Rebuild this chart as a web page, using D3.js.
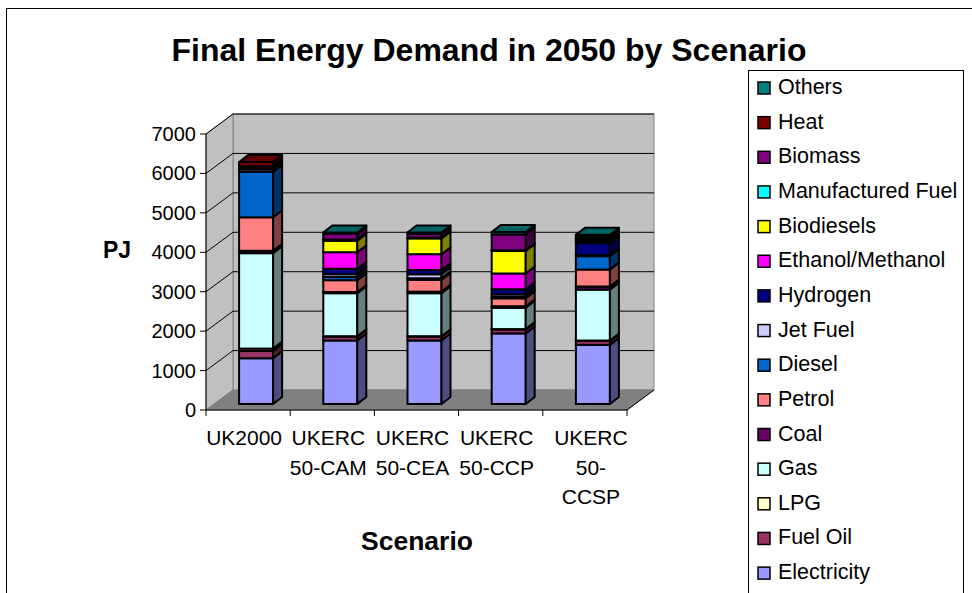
<!DOCTYPE html>
<html>
<head>
<meta charset="utf-8">
<script src="https://cdn.jsdelivr.net/npm/d3@7"></script>
<style>
  body { margin: 0; background: #fff; }
  text { font-family: Arial, "Liberation Sans", sans-serif; fill: #000; }
</style>
</head>
<body>
<svg id="chart" width="972" height="593"></svg>
<script>
// scenarios (x categories)
var scenarios = ["UK2000", "UKERC 50-CAM", "UKERC 50-CEA", "UKERC 50-CCP", "UKERC 50-CCSP"];

// PJ per fuel, one value per scenario
var electricity  = [1160, 1610, 1610, 1790, 1500];
var fuelOil      = [185, 100, 100, 100, 100];
var lpg          = [60, 10, 10, 10, 10];
var gas          = [2420, 1090, 1090, 540, 1290];
var coal         = [60, 30, 40, 40, 80];
var petrol       = [850, 300, 300, 200, 430];
var diesel       = [1150, 80, 40, 40, 340];
var jetFuel      = [60, 70, 100, 60, 30];
var hydrogen     = [0, 140, 110, 130, 300];
var ethanol      = [0, 420, 400, 400, 50];
var biodiesels   = [0, 290, 400, 570, 50];
var manufactured = [50, 30, 20, 20, 30];
var biomass      = [40, 150, 90, 400, 40];
var heat         = [100, 0, 0, 0, 0];
var others       = [0, 30, 40, 60, 40];

var yTicks = [0, 1000, 2000, 3000, 4000, 5000, 6000, 7000];

// stacking order, bottom first
var series = [
    {name: "Electricity", color: "#9999ff", values: electricity},
    {name: "Fuel Oil", color: "#993366", values: fuelOil},
    {name: "LPG", color: "#ffffcc", values: lpg},
    {name: "Gas", color: "#ccffff", values: gas},
    {name: "Coal", color: "#660066", values: coal},
    {name: "Petrol", color: "#ff8080", values: petrol},
    {name: "Diesel", color: "#0066cc", values: diesel},
    {name: "Jet Fuel", color: "#ccccff", values: jetFuel},
    {name: "Hydrogen", color: "#000080", values: hydrogen},
    {name: "Ethanol/Methanol", color: "#ff00ff", values: ethanol},
    {name: "Biodiesels", color: "#ffff00", values: biodiesels},
    {name: "Manufactured Fuel", color: "#00ffff", values: manufactured},
    {name: "Biomass", color: "#800080", values: biomass},
    {name: "Heat", color: "#800000", values: heat},
    {name: "Others", color: "#008080", values: others}
];

var svg = d3.select("#chart");

// chart area border
svg.append("rect")
    .attr("x", 6.5).attr("y", 8.5)
    .attr("width", 970).attr("height", 600)
    .attr("fill", "#fff").attr("stroke", "#000");

// plot box (front plane) and depth of the walls
var pLeft = 206, pRight = 627, pBottom = 410, pTop = 134;
var wallDx = 27, wallDy = -20;

var x = d3.scaleBand().domain(scenarios).range([pLeft, pRight]);
var y = d3.scaleLinear().domain([0, 7000]).range([pBottom, pTop]);

var g = svg.append("g");

// back wall
g.append("rect")
    .attr("x", pLeft + wallDx).attr("y", pTop + wallDy)
    .attr("width", pRight - pLeft).attr("height", pBottom - pTop)
    .attr("fill", "#c0c0c0").attr("stroke", "#808080");
// side wall
g.append("path")
    .attr("d", d3.line()([[pLeft, pTop], [pLeft + wallDx, pTop + wallDy],
			  [pLeft + wallDx, pBottom + wallDy], [pLeft, pBottom]]) + "Z")
    .attr("fill", "#c0c0c0").attr("stroke", "#808080");
// floor
g.append("path")
    .attr("d", d3.line()([[pLeft, pBottom], [pLeft + wallDx, pBottom + wallDy],
			  [pRight + wallDx, pBottom + wallDy], [pRight, pBottom]]) + "Z")
    .attr("fill", "#808080").attr("stroke", "#808080");

// gridlines on both walls
g.selectAll(".grid")
    .data(yTicks.slice(1))
    .enter().append("path")
    .attr("class", "grid")
    .attr("d", d => d3.line()([[pLeft, y(d)], [pLeft + wallDx, y(d) + wallDy],
			       [pRight + wallDx, y(d) + wallDy]]))
    .attr("fill", "none").attr("stroke", "#000").attr("stroke-width", 1);

// y axis
g.append("line")
    .attr("x1", pLeft).attr("x2", pLeft)
    .attr("y1", pTop).attr("y2", pBottom)
    .attr("stroke", "#000");
g.selectAll(".ytick")
    .data(yTicks)
    .enter().append("line")
    .attr("x1", pLeft - 6).attr("x2", pLeft)
    .attr("y1", d => y(d)).attr("y2", d => y(d))
    .attr("stroke", "#000");
g.selectAll(".ylab")
    .data(yTicks)
    .enter().append("text")
    .attr("x", pLeft - 10)
    .attr("y", d => y(d))
    .attr("text-anchor", "end")
    .attr("dominant-baseline", "central")
    .style("font-size", "20px")
    .text(d => d);

// x axis with tick marks between categories
g.append("line")
    .attr("x1", pLeft).attr("x2", pRight)
    .attr("y1", pBottom).attr("y2", pBottom)
    .attr("stroke", "#000");
g.append("line")
    .attr("x1", pRight).attr("x2", pRight + wallDx)
    .attr("y1", pBottom).attr("y2", pBottom + wallDy)
    .attr("stroke", "#000");
g.selectAll(".xtick")
    .data(scenarios.concat([null]))
    .enter().append("line")
    .attr("x1", d => d ? x(d) : pRight).attr("x2", d => d ? x(d) : pRight)
    .attr("y1", pBottom).attr("y2", pBottom + 6)
    .attr("stroke", "#000");

function wrapLabel(s) {
    var lines = [];
    s.split(" ").forEach(function(w) {
	var i = w.indexOf("-");
	if (w.length > 6 && i >= 0) {
	    lines.push(w.slice(0, i + 1));
	    lines.push(w.slice(i + 1));
	} else {
	    lines.push(w);
	}
    });
    return lines;
}

var xlab = g.selectAll(".xlab")
    .data(scenarios)
    .enter().append("text")
    .attr("class", "xlab")
    .attr("text-anchor", "middle")
    .style("font-size", "21px");
xlab.selectAll("tspan")
    .data(d => wrapLabel(d).map(t => ({cat: d, t: t})))
    .enter().append("tspan")
    // a three-line label sits a little to the right in the original
    .attr("x", d => x(d.cat) + x.bandwidth() / 2 - 4 + (wrapLabel(d.cat).length > 2 ? 10 : 0))
    .attr("y", (d, i) => 445 + i * 29.5)
    .text(d => d.t);

// bars: sit half way into the depth
var barDx = 8, barDy = -6;
var faceDx = 9, faceDy = -7;
var bx = d3.scaleBand().domain(scenarios)
    .range([pLeft + barDx, pRight + barDx])
    .paddingInner(0.596).paddingOuter(0.298);
var by = d3.scaleLinear().domain([0, 7000])
    .range([pBottom + barDy, pTop + barDy]);

var stack = d3.stack()
    .keys(d3.range(series.length))
    .value((d, k) => series[k].values[d]);
var layers = stack(d3.range(scenarios.length));

function shade(c, k) {
    var r = d3.rgb(c);
    return d3.rgb(r.r * k, r.g * k, r.b * k).toString();
}

var bw = bx.bandwidth();
scenarios.forEach(function(cat, ci) {
    var bar = g.append("g").attr("class", "bar");
    var x0 = bx(cat);
    var last = null;
    layers.forEach(function(layer, si) {
	var seg = layer[ci];
	if (seg[1] - seg[0] <= 0) return;
	last = {si: si, seg: seg};
	var y0 = by(seg[0]), y1 = by(seg[1]);
	bar.append("rect")
	    .attr("x", x0).attr("y", y1)
	    .attr("width", bw).attr("height", y0 - y1)
	    .attr("fill", series[si].color)
	    .attr("stroke", "#000").attr("stroke-width", 2);
	bar.append("path")
	    .attr("d", d3.line()([[x0 + bw, y0], [x0 + bw + faceDx, y0 + faceDy],
				  [x0 + bw + faceDx, y1 + faceDy], [x0 + bw, y1]]) + "Z")
	    .attr("fill", shade(series[si].color, 0.5))
	    .attr("stroke", "#000").attr("stroke-width", 2)
	    .attr("stroke-linejoin", "round");
    });
    var yt = by(last.seg[1]);
    bar.append("path")
	.attr("d", d3.line()([[x0, yt], [x0 + bw, yt],
			      [x0 + bw + faceDx, yt + faceDy], [x0 + faceDx, yt + faceDy]]) + "Z")
	.attr("fill", shade(series[last.si].color, 0.78))
	.attr("stroke", "#000").attr("stroke-width", 2)
	.attr("stroke-linejoin", "round");
});

// titles
svg.append("text")
    .attr("x", 489).attr("y", 61)
    .attr("text-anchor", "middle")
    .style("font-size", "32px").style("font-weight", "bold")
    .text("Final Energy Demand in 2050 by Scenario");
svg.append("text")
    .attr("x", 117).attr("y", 258)
    .attr("text-anchor", "middle")
    .style("font-size", "23px").style("font-weight", "bold")
    .text("PJ");
svg.append("text")
    .attr("x", 417).attr("y", 550)
    .attr("text-anchor", "middle")
    .style("font-size", "26.5px").style("font-weight", "bold")
    .text("Scenario");

// legend, last series on top
var legend = svg.append("g");
legend.append("rect")
    .attr("x", 748.5).attr("y", 70.5)
    .attr("width", 215).attr("height", 560)
    .attr("fill", "#fff").attr("stroke", "#000");
var items = legend.selectAll(".item")
    .data(series.slice().reverse())
    .enter().append("g")
    .attr("class", "item")
    .attr("transform", (d, i) => "translate(0," + (87 + i * 34.65) + ")");
items.append("rect")
    .attr("x", 758).attr("y", -5)
    .attr("width", 12).attr("height", 12)
    .attr("fill", d => d.color)
    .attr("stroke", "#000").attr("stroke-width", 1.5);
items.append("text")
    .attr("x", 778).attr("y", 0)
    .attr("dominant-baseline", "central")
    .style("font-size", "21.5px")
    .text(d => d.name);
</script>
</body>
</html>
